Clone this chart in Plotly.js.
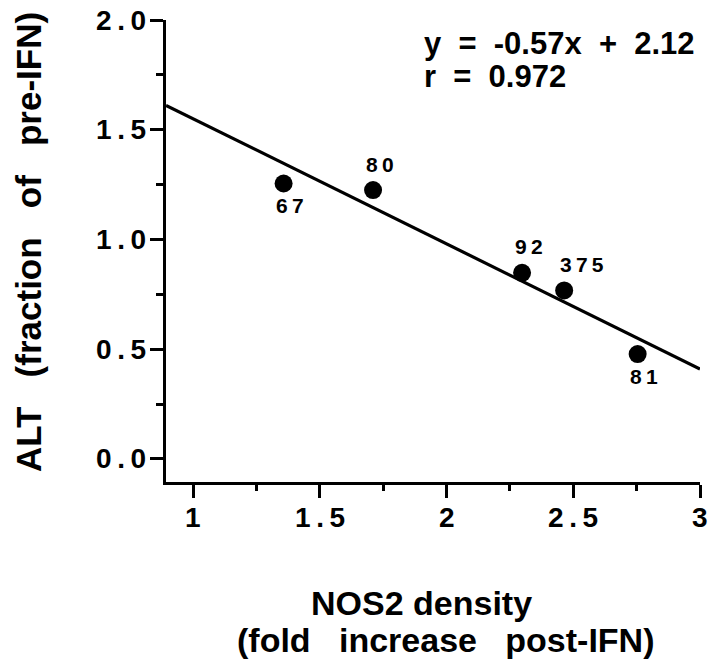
<!DOCTYPE html>
<html><head><meta charset="utf-8">
<script src="https://cdn.plot.ly/plotly-3.0.1.min.js"></script>
<style>body{margin:0;background:#fff}#c{width:720px;height:666px}</style>
</head><body><div id="c"></div>
<script>
const patientIds = ["67", "80", "92", "375", "81"];
const nos2Density = [1.357, 1.71, 2.298, 2.464, 2.754];
const altFraction = [1.255, 1.225, 0.848, 0.768, 0.478];
const labelPos = ["bottom", "top", "top", "topright", "bottom"];
const fitSlope = -0.57;
const fitIntercept = 2.12;
const fitX = [0.893, 3.0];
const fitY = fitX.map(x => fitSlope * x + fitIntercept);
const xTicks = [1, 1.5, 2, 2.5, 3];
const xTickText = ["1", "1.5", "2", "2.5", "3"];
const yTicks = [0, 0.5, 1.0, 1.5, 2.0];
const yTickText = ["0.0", "0.5", "1.0", "1.5", "2.0"];
const eqLine1 = "y  =  -0.57x  +  2.12";
const eqLine2 = "r  =  0.972";
const xTitle1 = "NOS2 density";
const xTitle2 = "(fold   increase   post-IFN)";
const yTitle = "ALT   (fraction   of   pre-IFN)";

const F = "Liberation Sans, Arial, sans-serif";
const sp = s => s.split("").join("\u2009");
const nb = s => s.replace(/ /g, "&nbsp;");
const b = s => "<b>" + s + "</b>";

const traces = [
  {x: fitX, y: fitY, mode: "lines", line: {color: "#000", width: 3.2}, hoverinfo: "skip"},
  {x: nos2Density, y: altFraction, mode: "markers",
   marker: {color: "#000", size: 18}}
];

const annotations = patientIds.map((id, i) => {
  const p = labelPos[i];
  let ax = 0, ay = 0;
  if (p === "bottom") { ax = 6; ay = 22; }
  if (p === "top") { ax = 7; ay = -26; }
  if (p === "topright") { ax = 18; ay = -26; }
  return {x: nos2Density[i], y: altFraction[i], xref: "x", yref: "y",
    text: b(sp(id)), showarrow: true, arrowcolor: "rgba(0,0,0,0)",
    ax: ax, ay: ay, font: {family: F, size: 21, color: "#000"}};
});
const tickFont = {family: F, size: 28, color: "#000"};
xTicks.forEach((v, i) => annotations.push({xref: "x", yref: "paper", x: v, y: 0, yshift: -35,
  xanchor: "center", yanchor: "middle", showarrow: false, text: b(sp(xTickText[i])), font: tickFont}));
yTicks.forEach((v, i) => annotations.push({xref: "paper", yref: "y", x: 0, xshift: -18, y: v,
  xanchor: "right", yanchor: "middle", showarrow: false, text: b(sp(yTickText[i])), font: tickFont}));
const bigFont = {family: F, size: 31, color: "#000"};
annotations.push({xref: "paper", yref: "paper", x: 0.479, y: 0.950, xanchor: "left", yanchor: "middle",
  showarrow: false, text: b(nb(eqLine1)), font: bigFont});
annotations.push({xref: "paper", yref: "paper", x: 0.479, y: 0.877, xanchor: "left", yanchor: "middle",
  showarrow: false, text: b(nb(eqLine2)), font: bigFont});
const titleFont = {family: F, size: 34, color: "#000"};
annotations.push({xref: "paper", yref: "paper", x: 0.479, y: 0, yshift: -121, xanchor: "center", yanchor: "middle",
  showarrow: false, text: b(nb(xTitle1)), font: titleFont});
annotations.push({xref: "paper", yref: "paper", x: 0.524, y: 0, yshift: -158, xanchor: "center", yanchor: "middle",
  showarrow: false, text: b(nb(xTitle2)), font: titleFont});
annotations.push({xref: "paper", yref: "paper", x: 0, xshift: -138, y: 0.5, yshift: 9, xanchor: "center", yanchor: "middle",
  textangle: -90, showarrow: false, text: b(nb(yTitle)), font: {family: F, size: 35, color: "#000"}});

const layout = {
  width: 720, height: 666,
  margin: {l: 166, r: 20, t: 20, b: 184},
  paper_bgcolor: "#fff", plot_bgcolor: "#fff",
  showlegend: false,
  font: {family: F, color: "#000"},
  xaxis: {range: [0.893, 3.0], showgrid: false, zeroline: false, showline: true,
    linecolor: "#000", linewidth: 3, ticks: "outside", ticklen: 13, tickwidth: 3, tickcolor: "#000",
    tickvals: xTicks, showticklabels: false,
    minor: {ticks: "outside", ticklen: 6, tickwidth: 3, tickcolor: "#000", dtick: 0.25}},
  yaxis: {range: [-0.105, 2.0], showgrid: false, zeroline: false, showline: true,
    linecolor: "#000", linewidth: 3, ticks: "outside", ticklen: 13, tickwidth: 3, tickcolor: "#000",
    tickvals: yTicks, showticklabels: false,
    minor: {ticks: "outside", ticklen: 7, tickwidth: 3, tickcolor: "#000", dtick: 0.25}},
  annotations: annotations
};

Plotly.newPlot("c", traces, layout, {displayModeBar: false, staticPlot: true});
</script></body></html>
